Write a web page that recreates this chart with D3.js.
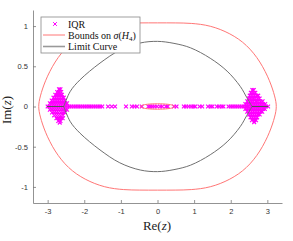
<!DOCTYPE html>
<html><head><meta charset="utf-8">
<script src="https://cdn.jsdelivr.net/npm/d3@7"></script>
<style>body{margin:0;background:#fff}</style></head>
<body><svg id="c" width="293" height="241"></svg>
<script>
// ---- data ----
const xTicks = [-3, -2, -1, 0, 1, 2, 3];
const yTicks = [-1, -0.5, 0, 0.5, 1];

// IQR markers: blob rows [imag, [real values]]
const leftBlobRows = [
  [0.215, [-2.69, -2.65]],
  [0.18, [-2.74, -2.69, -2.63]],
  [0.145, [-2.79, -2.73, -2.67, -2.61]],
  [0.11, [-2.84, -2.78, -2.72, -2.66, -2.60, -2.56]],
  [0.075, [-2.89, -2.83, -2.77, -2.71, -2.65, -2.59, -2.53]],
  [0.04, [-2.94, -2.88, -2.82, -2.76, -2.70, -2.64, -2.58, -2.52, -2.47]],
  [0.0, [-3.0, -2.95, -2.89, -2.83, -2.77, -2.71, -2.65, -2.59, -2.53, -2.47]],
  [-0.04, [-2.94, -2.88, -2.82, -2.76, -2.70, -2.64, -2.58, -2.52, -2.47]],
  [-0.075, [-2.88, -2.82, -2.76, -2.70, -2.64, -2.58, -2.53]],
  [-0.11, [-2.82, -2.76, -2.70, -2.64, -2.58]],
  [-0.145, [-2.76, -2.70, -2.64, -2.59]],
  [-0.18, [-2.71, -2.65]],
  [-0.2, [-2.67]]
];
const rightBlobRows = [
  [0.205, [2.59, 2.63]],
  [0.17, [2.55, 2.61, 2.67]],
  [0.135, [2.52, 2.58, 2.64, 2.70, 2.75]],
  [0.10, [2.49, 2.55, 2.61, 2.67, 2.73, 2.79]],
  [0.065, [2.45, 2.51, 2.57, 2.63, 2.69, 2.75, 2.81, 2.87]],
  [0.03, [2.40, 2.46, 2.52, 2.58, 2.64, 2.70, 2.76, 2.82, 2.88, 2.94]],
  [0.0, [2.36, 2.42, 2.48, 2.54, 2.60, 2.66, 2.72, 2.78, 2.84, 2.90, 2.96, 3.02]],
  [-0.03, [2.40, 2.46, 2.52, 2.58, 2.64, 2.70, 2.76, 2.82, 2.88, 2.93]],
  [-0.065, [2.45, 2.51, 2.57, 2.63, 2.69, 2.75, 2.81, 2.86]],
  [-0.10, [2.50, 2.56, 2.62, 2.68, 2.74, 2.79]],
  [-0.135, [2.54, 2.60, 2.66, 2.72]],
  [-0.17, [2.58, 2.64, 2.69]],
  [-0.195, [2.64]]
];
// IQR markers on the real axis
const axisRe = [-2.41, -2.35, -2.29, -2.23, -2.17, -2.11, -2.05, -1.99, -1.93, -1.87, -1.81, -1.75,
  -1.69, -1.63, -1.57, -1.51, -1.35, -1.25, -1.16, -0.86, -0.70, -0.63, -0.56, -0.43, -0.25, -0.20,
  -0.14, -0.08, -0.01, 0.07, 0.13, 0.23, 0.28, 0.45, 0.52, 0.72, 0.78, 0.85, 0.92, 0.98, 1.03, 1.15,
  1.22, 1.38, 1.45, 1.50, 1.62, 1.68, 1.75, 1.80, 1.94, 2.0, 2.06, 2.12, 2.18, 2.24, 2.30];

// Bounds on sigma(H4): upper-right quadrant of outer curve, and small inner ellipse
const boundQuadrant = [[0, 1.04], [0.5, 1.04], [0.9, 1.037], [1.44, 1.01], [1.99, 0.91], [2.44, 0.77],
  [2.81, 0.56], [3.08, 0.31], [3.21, 0.12], [3.26, 0]];
const innerQuadrant = [[0, 0.036], [0.3, 0.029], [0.42, 0.017], [0.49, 0]];

// Limit curve: upper branch and the two real-axis spurs
const limitUpper = [[-2.56, 0], [-2.38, 0.19], [-2.12, 0.33], [-1.57, 0.54], [-1.03, 0.70], [-0.47, 0.79],
  [0, 0.81], [0.45, 0.785], [0.9, 0.73], [1.44, 0.60], [1.9, 0.44], [2.26, 0.25], [2.44, 0.11], [2.58, 0]];
const limitSpurs = [[[-3.02, 0], [-2.56, 0]], [[2.58, 0], [3.02, 0]]];

// ---- drawing ----
const svg = d3.select("#c");
const x = d3.scaleLinear([-3.4, 3.4], [33, 282]);
const y = d3.scaleLinear([-1.2, 1.2], [203, 10]);
const axisColor = "#777", textColor = "#333";
const magenta = "#ff00ff", red = "#ff7676", gray = "#707070";

// axes
const gx = svg.append("g").attr("transform", `translate(0,${y(-1.2)})`)
  .call(d3.axisBottom(x).tickValues(xTicks).tickFormat(d => String(d)).tickSizeInner(-3).tickSizeOuter(0).tickPadding(6));
const gy = svg.append("g").attr("transform", `translate(${x(-3.4)},0)`)
  .call(d3.axisLeft(y).tickValues(yTicks).tickFormat(d => String(d)).tickSizeInner(-3).tickSizeOuter(0).tickPadding(5));
[gx, gy].forEach(g => {
  g.select(".domain").attr("stroke", axisColor).attr("stroke-width", 0.8);
  g.selectAll(".tick line").attr("stroke", axisColor).attr("stroke-width", 0.8);
  g.selectAll(".tick text").attr("fill", textColor).style("font-family", "Liberation Sans, Arial, sans-serif").style("font-size", "7.5px");
});

// markers
const pts = [];
leftBlobRows.concat(rightBlobRows).forEach(([im, res]) => res.forEach(re => pts.push([re, im])));
axisRe.forEach(re => pts.push([re, 0]));
const s = 1.9;
const cross = (cx, cy) => `M${cx - s},${cy - s}L${cx + s},${cy + s}M${cx - s},${cy + s}L${cx + s},${cy - s}`;
svg.append("path")
  .attr("d", pts.map(([a, b]) => cross(x(a), y(b))).join(""))
  .attr("stroke", magenta).attr("stroke-width", 1.2).attr("fill", "none");

// bound curves
function mirrorLoop(q) {
  return [
    ...q.map(([a, b]) => [a, b]),
    ...q.slice(0, -1).reverse().map(([a, b]) => [a, -b]),
    ...q.slice(1).map(([a, b]) => [-a, -b]),
    ...q.slice(1, -1).reverse().map(([a, b]) => [-a, b])
  ];
}
const closedLine = d3.line().x(d => x(d[0])).y(d => y(d[1])).curve(d3.curveBasisClosed);
[boundQuadrant, innerQuadrant].forEach(q => {
  svg.append("path").attr("d", closedLine(mirrorLoop(q)))
    .attr("fill", "none").attr("stroke", red).attr("stroke-width", 1);
});

// limit curve
const openLine = d3.line().x(d => x(d[0])).y(d => y(d[1])).curve(d3.curveCatmullRom);
[limitUpper, limitUpper.map(([a, b]) => [a, -b])].forEach(c => {
  svg.append("path").attr("d", openLine(c)).attr("fill", "none").attr("stroke", gray).attr("stroke-width", 1);
});
limitSpurs.forEach(c => {
  svg.append("path").attr("d", d3.line().x(d => x(d[0])).y(d => y(d[1]))(c))
    .attr("fill", "none").attr("stroke", "#555").attr("stroke-width", 1);
});

// legend
const lg = svg.append("g");
lg.append("rect").attr("x", 41).attr("y", 17).attr("width", 99).attr("height", 36)
  .attr("fill", "#fff").attr("stroke", "#888").attr("stroke-width", 0.8);
const serif = "Liberation Serif, DejaVu Serif, serif";
lg.append("path").attr("d", cross(55, 24)).attr("stroke", magenta).attr("stroke-width", 1);
lg.append("line").attr("x1", 43).attr("x2", 65).attr("y1", 35).attr("y2", 35).attr("stroke", red).attr("stroke-width", 1);
lg.append("line").attr("x1", 43).attr("x2", 65).attr("y1", 46.5).attr("y2", 46.5).attr("stroke", "#999").attr("stroke-width", 1.6);
const lt = (yy) => lg.append("text").attr("x", 68).attr("y", yy).attr("fill", "#111")
  .style("font-family", serif).style("font-size", "10px");
lt(27.5).text("IQR");
const t2 = lt(38.5);
t2.append("tspan").text("Bounds on ");
t2.append("tspan").style("font-style", "italic").text("σ");
t2.append("tspan").text("(");
t2.append("tspan").style("font-style", "italic").text("H");
t2.append("tspan").attr("font-size", "7px").attr("dy", 2).text("4");
t2.append("tspan").attr("dy", -2).text(")");
lt(50).text("Limit Curve");

// axis labels
const xl = svg.append("text").attr("x", 157).attr("y", 230).attr("text-anchor", "middle")
  .attr("fill", "#222").style("font-family", serif).style("font-size", "13px");
xl.append("tspan").text("Re(");
xl.append("tspan").style("font-style", "italic").text("z");
xl.append("tspan").text(")");
const yl = svg.append("text").attr("transform", "translate(11,110) rotate(-90)").attr("text-anchor", "middle")
  .attr("fill", "#222").style("font-family", serif).style("font-size", "13px");
yl.append("tspan").text("Im(");
yl.append("tspan").style("font-style", "italic").text("z");
yl.append("tspan").text(")");
</script>
</body></html>
